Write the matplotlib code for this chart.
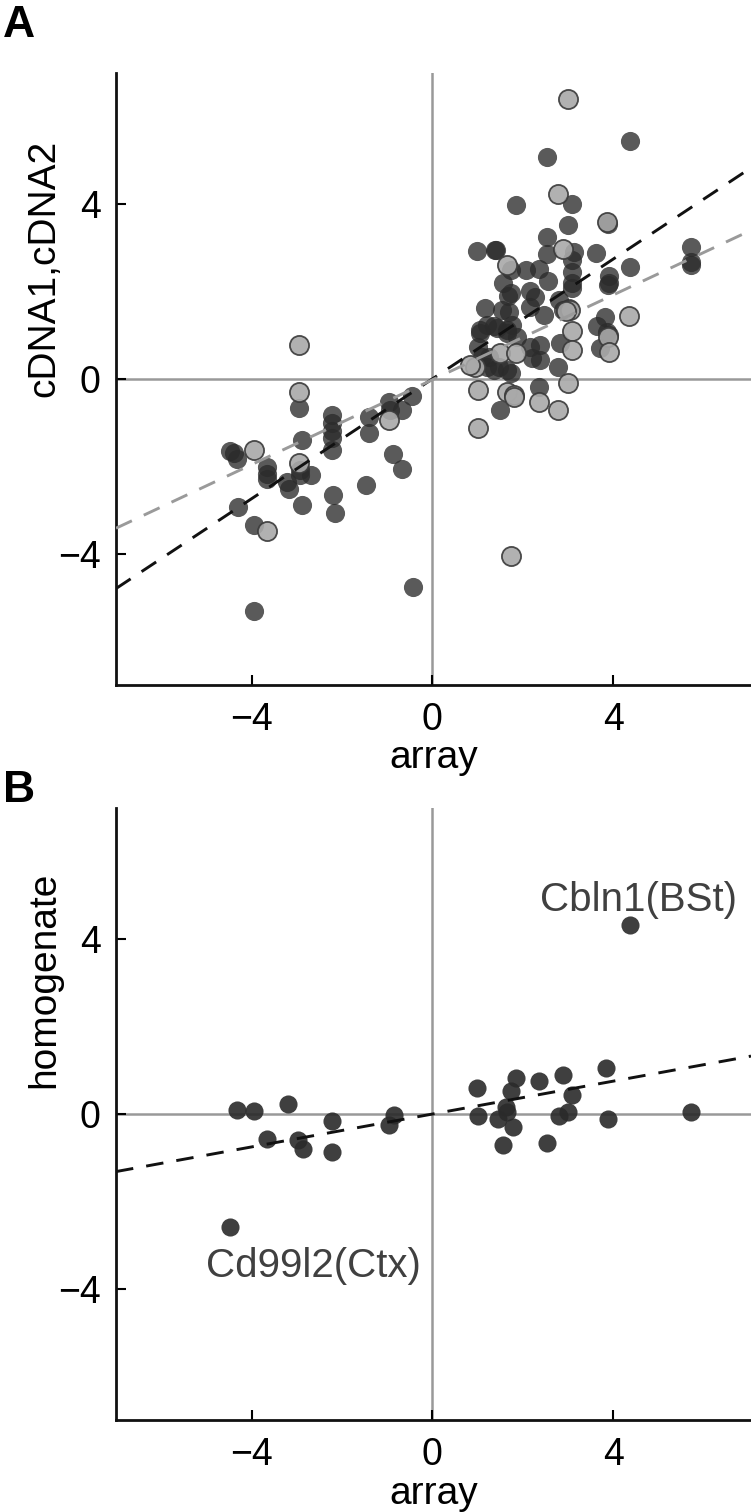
import numpy as np
import matplotlib
matplotlib.use("Agg")
import matplotlib.pyplot as plt

plt.rcParams['font.family'] = ['Liberation Sans', 'DejaVu Sans']

# panel A, cDNA1 (dark points)
a1_x = [-4.47, -4.40, -4.32, -3.66, -3.66, -3.66, -3.21, -3.18, -2.92, -2.68,
        -2.92, -2.96, -2.88, -2.88, -4.30, -3.95, -3.95, -2.22, -2.22, -2.22,
        -2.22, -2.22, -2.20, -2.15, -1.41, -1.41, -1.47, -0.95, -0.94, -0.67,
        -0.45, -0.87, -0.67, -0.43,
        4.37, 2.54, 3.09, 1.84, 3.00, 3.86, 3.88, 2.53, 0.98, 1.39,
        1.41, 2.53, 3.13, 3.61, 5.73, 5.73, 5.73, 4.37, 1.75, 2.08,
        2.36, 2.56, 1.57, 3.08, 3.08, 3.08, 3.08, 3.90, 3.90, 3.88,
        1.67, 1.73, 2.17, 2.28, 1.17, 1.54, 1.69, 2.17, 2.46, 2.80,
        2.88, 3.02, 1.21, 1.43, 1.65, 1.76, 1.06, 3.83, 3.64, 3.86,
        1.06, 1.36, 1.65, 1.87, 1.02, 1.10, 1.21, 1.36, 1.65, 1.73,
        2.17, 2.39, 2.21, 2.39, 2.83, 2.79, 3.70, 3.90, 2.37, 1.50,
        1.25, 1.47]
a1_y = [-1.64, -1.70, -1.83, -2.02, -2.18, -2.28, -2.35, -2.52, -2.20, -2.19,
        -2.08, -0.67, -1.39, -2.88, -2.92, -3.34, -5.32, -0.82, -1.00, -1.19,
        -1.36, -1.62, -2.65, -3.06, -0.86, -1.24, -2.42, -0.52, -0.71, -0.71,
        -0.40, -1.72, -2.06, -4.76,
        5.44, 5.08, 4.01, 3.98, 3.52, 3.60, 3.55, 3.24, 2.92, 2.96,
        2.94, 2.86, 2.91, 2.89, 3.02, 2.68, 2.60, 2.55, 2.49, 2.49,
        2.51, 2.24, 2.20, 2.72, 2.45, 2.19, 2.07, 2.36, 2.20, 2.14,
        1.90, 1.96, 2.00, 1.88, 1.62, 1.58, 1.54, 1.65, 1.47, 1.80,
        1.58, 1.62, 1.23, 1.16, 1.12, 1.23, 1.12, 1.42, 1.20, 1.08,
        1.04, 1.20, 1.04, 0.97, 0.74, 0.51, 0.28, 0.21, 0.21, 0.13,
        0.74, 0.78, 0.47, 0.43, 0.83, 0.28, 0.70, 1.00, -0.19, -0.72,
        0.51, 0.28]

# panel A, cDNA2 (light points)
a2_x = [-2.96, -2.96, -2.96, -3.95, -3.66, -0.96,
        3.00, 2.79, 3.86, 2.89, 1.64, 3.05, 4.36, 3.09, 3.88, 3.09,
        3.90, 1.49, 1.84, 0.95, 0.84, 3.00, 1.01, 1.01, 1.65, 1.80,
        1.80, 2.37, 2.79, 1.75, 2.95]
a2_y = [0.78, -0.30, -1.93, -1.62, -3.49, -0.94,
        6.40, 4.24, 3.58, 2.98, 2.61, 1.58, 1.44, 1.10, 0.95, 0.66,
        0.62, 0.59, 0.59, 0.28, 0.32, -0.10, -0.26, -1.13, -0.30, -0.37,
        -0.42, -0.53, -0.70, -4.06, 1.55]

# fitted lines (slope, intercept)
fit_a1 = (0.685, 0.0)
fit_a2 = (0.485, -0.02)

# panel B
b_x = [-4.32, -3.95, -3.20, -3.66, -2.97, -2.87, -2.22, -2.22, -0.86, -0.95,
       0.98, 1.01, 1.45, 1.63, 1.65, 1.56, 1.74, 1.84, 1.79, 2.37,
       2.53, 2.89, 2.80, 3.09, 3.01, 3.84, 3.88, 5.72, -4.47, 4.37]
b_y = [0.09, 0.08, 0.22, -0.58, -0.60, -0.81, -0.16, -0.86, -0.02, -0.25,
       0.59, -0.05, -0.12, 0.17, 0.05, -0.71, 0.53, 0.82, -0.29, 0.76,
       -0.66, 0.89, -0.05, 0.44, 0.05, 1.05, -0.11, 0.05, -2.58, 4.32]
fit_b = (0.188, 0.0)
b_labels = ['Cbln1(BSt)', 'Cd99l2(Ctx)']
b_label_pos = [(2.39, 4.89), (-5.01, -3.48)]

ticks = [-4, 0, 4]
xlim = (-7, 7.05)
ylim = (-7, 7)

fig = plt.figure(figsize=(7.51, 15.12), dpi=100)
axA = fig.add_axes([0.1545, 0.5470, 0.8455, 0.4048])
axB = fig.add_axes([0.1545, 0.0608, 0.8455, 0.4048])


def style(ax, ylabel, label_y):
    ax.set_xlim(*xlim)
    ax.set_ylim(*ylim)
    ax.axhline(0, color='#999999', lw=1.8, zorder=1)
    ax.axvline(0, color='#999999', lw=1.8, zorder=1)
    for s in ['top', 'right']:
        ax.spines[s].set_visible(False)
    for s in ['left', 'bottom']:
        ax.spines[s].set_linewidth(2.0)
        ax.spines[s].set_color('#111111')
    ax.set_xticks(ticks)
    ax.set_yticks(ticks)
    ax.tick_params(direction='in', length=7, width=1.5, labelsize=27)
    ax.tick_params(axis='x', pad=12)
    ax.tick_params(axis='y', pad=11)
    ax.set_xlabel('array', fontsize=28, labelpad=2)
    ax.set_ylabel(ylabel, fontsize=28)
    ax.yaxis.set_label_coords(-0.085, label_y)


xx = np.array(xlim)

# panel A
axA.scatter(a1_x, a1_y, s=190, color='#2b2b2b', alpha=0.78, linewidths=0, zorder=3)
axA.scatter(a2_x, a2_y, s=190, facecolor='#a9a9a9', edgecolor='#3a3a3a',
            linewidths=1.3, alpha=0.9, zorder=3)
axA.plot(xx, fit_a1[0] * xx + fit_a1[1], color='#111111', lw=2.1,
         dashes=(6, 4.5), zorder=4)
axA.plot(xx, fit_a2[0] * xx + fit_a2[1], color='#9a9a9a', lw=2.1,
         dashes=(6, 4.5), zorder=4)
style(axA, 'cDNA1,cDNA2', 0.68)

# panel B
axB.scatter(b_x, b_y, s=170, color='#2a2a2a', alpha=0.9, linewidths=0, zorder=3)
axB.plot(xx, fit_b[0] * xx + fit_b[1], color='#111111', lw=2.1,
         dashes=(6, 4.5), zorder=4)
for lab, (tx, ty) in zip(b_labels, b_label_pos):
    axB.text(tx, ty, lab, fontsize=29, color='#404040', ha='left', va='center')
style(axB, 'homogenate', 0.72)

fig.text(0.004, 0.997, 'A', fontsize=32, fontweight='bold', va='top', ha='left')
fig.text(0.004, 0.491, 'B', fontsize=32, fontweight='bold', va='top', ha='left')

fig.savefig('out.png', dpi=100)
